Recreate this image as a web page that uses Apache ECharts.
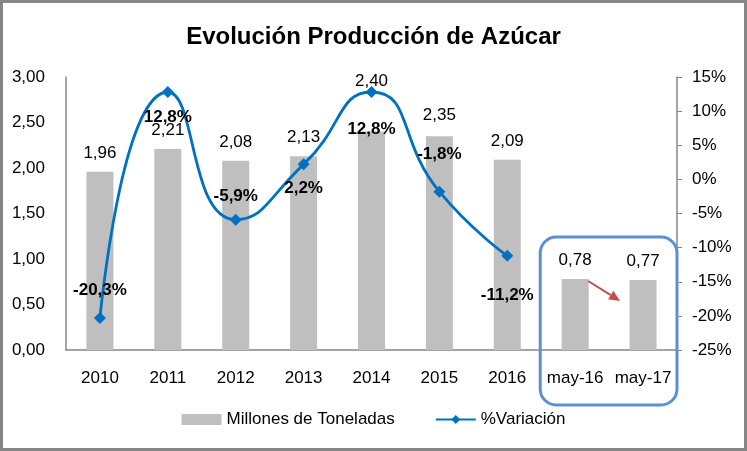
<!DOCTYPE html>
<html><head><meta charset="utf-8">
<script src="https://cdn.jsdelivr.net/npm/echarts@6/dist/echarts.min.js"></script>
<style>html,body{margin:0;padding:0;background:#fff}#c{width:747px;height:451px}</style>
</head><body><div id="c"></div>
<script>
const categories = ['2010','2011','2012','2013','2014','2015','2016','may-16','may-17'];
const production = [1.96, 2.21, 2.08, 2.13, 2.40, 2.35, 2.09, 0.78, 0.77];
const variation = [-20.3, 12.8, -5.9, 2.2, 12.8, -1.8, -11.2, null, null];
const leftTicks = [0, 0.5, 1, 1.5, 2, 2.5, 3];
const rightTicks = [-25, -20, -15, -10, -5, 0, 5, 10, 15];
const labelPos = ['top','bottom','top','bottom','bottom','top','bottom'];
const labelOff = [[0,-8],[0,6],[0,-4],[0,4],[0,18],[0,-18],[0,20]];
const barLabelOff = [[0,0],[0,0],[0,0],[0,0],[0,-32],[0,-2],[0,0],[0,0],[0,0]];

const FONT = '"Liberation Sans Narrow","Liberation Sans",Arial,sans-serif';
const chart = echarts.init(document.getElementById('c'));
const fmt2 = v => v.toFixed(2).replace('.', ',');
chart.setOption({
  animation: false,
  textStyle: {fontFamily: FONT},
  title: {text: 'Evolución Producción de Azúcar', left: 'center', top: 20,
    textStyle: {fontFamily: FONT, fontSize: 24, fontWeight: 'bold', color: '#000'}},
  grid: {left: 66, right: 70, top: 77, bottom: 101},
  legend: {bottom: 18, left: 'center', itemGap: 40, itemWidth: 40, itemHeight: 11,
    textStyle: {fontFamily: FONT, fontSize: 17, color: '#000'},
    data: [{name: 'Millones de Toneladas', icon: 'rect'}, {name: '%Variación'}]},
  xAxis: {type: 'category', data: categories,
    axisLine: {lineStyle: {color: '#868686', width: 1.5}}, axisTick: {show: false},
    axisLabel: {interval: 0, fontFamily: FONT, fontSize: 17, color: '#000', margin: 20}},
  yAxis: [
    {type: 'value', min: 0, max: 3, interval: 0.5, splitLine: {show: false},
      axisLine: {show: true, lineStyle: {color: '#868686', width: 1.5}}, axisTick: {show: false},
      axisLabel: {fontFamily: FONT, fontSize: 17, color: '#000', margin: 21, formatter: fmt2}},
    {type: 'value', min: -25, max: 15, interval: 5, splitLine: {show: false},
      axisLine: {show: true, lineStyle: {color: '#868686', width: 1.5}},
      axisTick: {show: true, length: 5, lineStyle: {color: '#868686'}},
      axisLabel: {fontFamily: FONT, fontSize: 17, color: '#000', margin: 15, formatter: v => v + '%'}}
  ],
  series: [
    {name: 'Millones de Toneladas', type: 'bar', barWidth: 27,
      itemStyle: {color: '#BFBFBF'},
      data: production.map((v, i) => ({value: v, label: {offset: barLabelOff[i]}})),
      label: {show: true, position: 'top', distance: 10, fontFamily: FONT, fontSize: 17, color: '#000',
        formatter: p => fmt2(p.value)}},
    {name: '%Variación', type: 'line', yAxisIndex: 1, smooth: 0.55, connectNulls: false,
      symbol: 'diamond', symbolSize: 12,
      lineStyle: {color: '#0070C0', width: 2.8}, itemStyle: {color: '#0070C0'},
      data: variation.map((v, i) => v === null ? null : {value: v,
        label: {show: true, position: labelPos[i], offset: labelOff[i], fontFamily: FONT,
          fontSize: 17, fontWeight: 'bold', color: '#000',
          formatter: p => p.value.toFixed(1).replace('.', ',') + '%'}})}
  ]
});

function drawExtras() {
  const a = chart.convertToPixel({xAxisIndex: 0, yAxisIndex: 0}, ['may-16', production[7]]);
  const b = chart.convertToPixel({xAxisIndex: 0, yAxisIndex: 0}, ['may-17', production[8]]);
  const base = chart.convertToPixel({xAxisIndex: 0, yAxisIndex: 0}, ['may-17', 0]);
  const step = b[0] - a[0];
  const x0 = a[0] - step / 2 - 1, x1 = b[0] + step / 2;
  const y0 = a[1] - 42, y1 = base[1] + 55;
  const ax0 = a[0] + 13, ay0 = a[1] + 2, ax1 = b[0] - 23, ay1 = b[1] + 21;
  const ang = Math.atan2(ay1 - ay0, ax1 - ax0);
  const hl = 11, hw = 5;
  const bx = ax1 - hl * Math.cos(ang), by = ay1 - hl * Math.sin(ang);
  chart.setOption({graphic: [
    {type: 'rect', shape: {x: 1.5, y: 1.5, width: 744, height: 448}, style: {fill: null, stroke: '#868686', lineWidth: 3}, z: 100},
    {type: 'rect', shape: {x: x0, y: y0, width: x1 - x0, height: y1 - y0, r: 16},
      style: {fill: null, stroke: '#5B8FD6', lineWidth: 3}, z: 100},
    {type: 'line', shape: {x1: ax0, y1: ay0, x2: bx, y2: by}, style: {stroke: '#C0504D', lineWidth: 2}, z: 100},
    {type: 'polygon', shape: {points: [[ax1, ay1],
      [bx + hw * Math.sin(ang), by - hw * Math.cos(ang)],
      [bx - hw * Math.sin(ang), by + hw * Math.cos(ang)]]},
      style: {fill: '#C0504D'}, z: 100}
  ]});
}
drawExtras();
</script></body></html>
